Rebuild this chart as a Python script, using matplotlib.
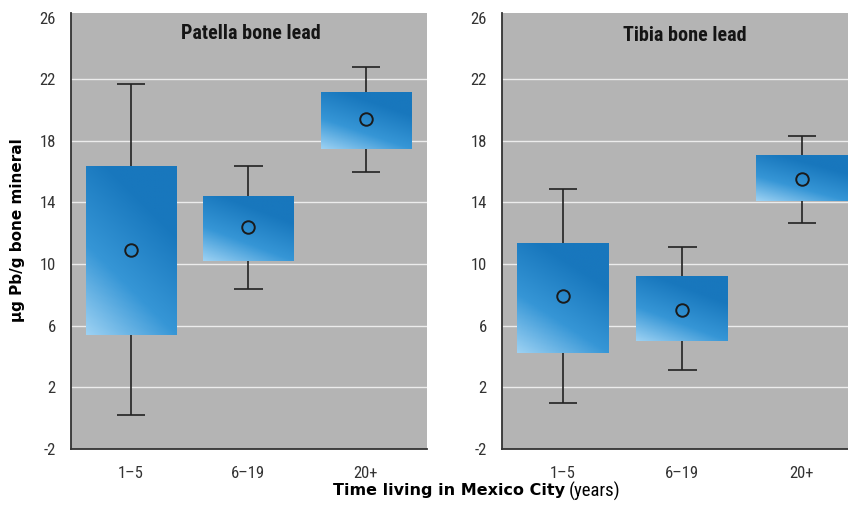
import numpy as np
import matplotlib
matplotlib.use("Agg")
import matplotlib.pyplot as plt
from matplotlib.colors import LinearSegmentedColormap

# ---------------- data ----------------
categories = ["1–5", "6–19", "20+"]
yticks = [-2, 2, 6, 10, 14, 18, 22, 26]
grid_vals = [2, 6, 10, 14, 18, 22]

patella_q1 = [5.4, 10.2, 17.5]
patella_q3 = [16.4, 14.4, 21.2]
patella_low = [0.2, 8.4, 16.0]
patella_high = [21.7, 16.4, 22.8]
patella_mean = [10.9, 12.4, 19.4]

tibia_q1 = [4.2, 5.0, 14.1]
tibia_q3 = [11.4, 9.2, 17.1]
tibia_low = [1.0, 3.1, 12.7]
tibia_high = [14.9, 11.1, 18.3]
tibia_mean = [7.9, 7.0, 15.5]

titles = ["Patella bone lead", "Tibia bone lead"]

# ---------------- style ----------------
NARROW = ["Roboto Condensed", "DejaVu Sans"]
HEAVY = ["DejaVu Sans"]
BG = "#b4b4b4"
cmap = LinearSegmentedColormap.from_list("boxgrad", ["#1877bd", "#3696d6", "#a8d8f6"])

# diagonal gradient image (dark top/right, light bottom-left)
ny, nx = 120, 60
yy, xx = np.mgrid[0:1:ny * 1j, 0:1:nx * 1j]   # yy: 0 at top row
light = np.clip(yy * 0.85 + (1 - xx) * 0.45 - 0.35, 0, 1)

fig = plt.figure(figsize=(8.48, 5.05), dpi=100)

W = 848.0
H = 505.0
ax_bottom = (H - 449) / H
ax_height = (449 - 13) / H
xlim = (-0.51, 2.52)
axes_px = [(71, 427), (502, 864)]

panels = [
    (patella_q1, patella_q3, patella_low, patella_high, patella_mean),
    (tibia_q1, tibia_q3, tibia_low, tibia_high, tibia_mean),
]
title_y = [25.0, 24.85]

for i, (q1, q3, lo, hi, mn) in enumerate(panels):
    x0, x1 = axes_px[i]
    ax = fig.add_axes([x0 / W, ax_bottom, (x1 - x0) / W, ax_height])
    ax.set_facecolor(BG)
    x = np.arange(len(categories))
    q1a = np.array(q1)
    q3a = np.array(q3)

    for g in grid_vals:
        ax.axhline(g, color="#ececec", lw=1.0, zorder=1)

    bw = 0.77
    cw = 0.12
    ax.vlines(x, lo, q1a, color="#222222", lw=1.2, zorder=2)
    ax.vlines(x, q3a, hi, color="#222222", lw=1.2, zorder=2)
    ax.hlines(lo, x - cw, x + cw, color="#222222", lw=1.2, zorder=2)
    ax.hlines(hi, x - cw, x + cw, color="#222222", lw=1.2, zorder=2)

    bars = ax.bar(x, q3a - q1a, bottom=q1a, width=bw, color="none",
                  edgecolor="none", zorder=3)
    for b in bars:
        bx, by = b.get_x(), b.get_y()
        im = ax.imshow(light, cmap=cmap, vmin=0, vmax=1, aspect="auto",
                       extent=[bx, bx + b.get_width(), by, by + b.get_height()],
                       origin="upper", zorder=3, interpolation="bilinear")
        im.set_clip_path(b)

    ax.plot(x, mn, "o", ms=9, mfc="none", mec="#1a1a1a", mew=1.4, zorder=4)

    ax.set_xlim(*xlim)
    ax.set_ylim(-2, 26.3)
    ax.set_yticks(yticks)
    ax.set_yticklabels([str(v) for v in yticks], family=NARROW, fontsize=12,
                       color="#333333")
    ax.set_xticks(x)
    ax.set_xticklabels(categories, family=NARROW, fontsize=12, color="#333333")
    ax.tick_params(axis="y", length=0, pad=11)
    ax.tick_params(axis="x", length=0, pad=12)
    for s in ["top", "right"]:
        ax.spines[s].set_visible(False)
    for s in ["left", "bottom"]:
        ax.spines[s].set_color("#333333")
        ax.spines[s].set_linewidth(1.3)

    ax.text(1.02, title_y[i], titles[i], ha="center", va="center",
            family=NARROW, fontweight="bold", fontsize=14.5, color="#151515",
            zorder=5)

fig.text(0.021, 1 - 230 / H, "µg Pb/g bone mineral", rotation=90,
         ha="center", va="center", fontsize=11, fontweight="bold",
         family=HEAVY, color="black")

t1 = fig.text(333 / W, 1 - 491 / H, "Time living in Mexico City", ha="left",
              va="center", fontsize=11.5, fontweight="bold", family=HEAVY,
              color="black")
r = fig.canvas.get_renderer()
bb = t1.get_window_extent(renderer=r)
fig.text((bb.x1 + 4) / W, 1 - 491 / H, "(years)", ha="left", va="center",
         fontsize=13.5, family=NARROW, color="black")

fig.savefig("out.png", dpi=100)
